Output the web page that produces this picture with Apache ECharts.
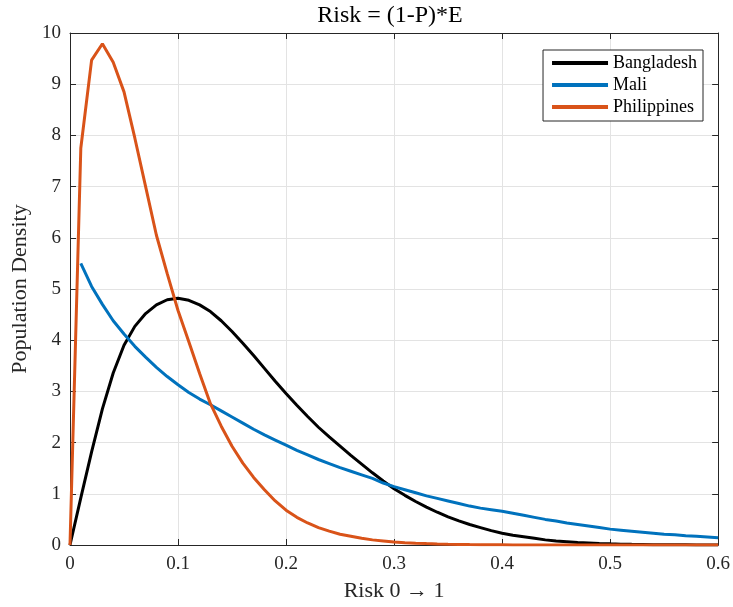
<!DOCTYPE html>
<html>
<head>
<meta charset="utf-8">
<script src="https://cdn.jsdelivr.net/npm/echarts@6/dist/echarts.min.js"></script>
<style>html,body{margin:0;padding:0;background:#fff}#c{width:733px;height:607px}</style>
</head>
<body>
<div id="c"></div>
<script>
var titleText = 'Risk = (1-P)*E';
var xName = 'Risk 0 \u2192 1';
var yName = 'Population Density';
var seriesNames = ['Bangladesh', 'Mali', 'Philippines'];
var xTicks = [0, 0.1, 0.2, 0.3, 0.4, 0.5, 0.6];
var yTicks = [0, 1, 2, 3, 4, 5, 6, 7, 8, 9, 10];

var riskX = [0.00,0.01,0.02,0.03,0.04,0.05,0.06,0.07,0.08,0.09,
             0.10,0.11,0.12,0.13,0.14,0.15,0.16,0.17,0.18,0.19,
             0.20,0.21,0.22,0.23,0.24,0.25,0.26,0.27,0.28,0.29,
             0.30,0.31,0.32,0.33,0.34,0.35,0.36,0.37,0.38,0.39,
             0.40,0.41,0.42,0.43,0.44,0.45,0.46,0.47,0.48,0.49,
             0.50,0.51,0.52,0.53,0.54,0.55,0.56,0.57,0.58,0.59,0.60];

var bangladesh = [0,0.92,1.82,2.66,3.36,3.9,4.27,4.52,4.69,4.79,
                  4.82,4.78,4.69,4.56,4.38,4.17,3.94,3.7,3.45,3.2,
                  2.96,2.73,2.51,2.3,2.11,1.93,1.75,1.58,1.41,1.25,
                  1.1,0.97,0.85,0.74,0.64,0.55,0.47,0.4,0.34,0.28,
                  0.23,0.19,0.16,0.13,0.1,0.08,0.065,0.05,0.04,0.03,
                  0.022,0.017,0.013,0.01,0.007,0.005,0.004,0.003,0.002,0.001,0.001];

var mali = [null,5.5,5.05,4.7,4.38,4.12,3.88,3.67,3.47,3.29,
            3.13,2.98,2.85,2.74,2.62,2.5,2.38,2.26,2.15,2.05,
            1.95,1.85,1.76,1.67,1.59,1.51,1.44,1.37,1.3,1.21,
            1.14,1.08,1.02,0.96,0.91,0.86,0.81,0.76,0.72,0.69,
            0.66,0.62,0.58,0.54,0.5,0.47,0.43,0.4,0.37,0.34,
            0.31,0.29,0.27,0.25,0.23,0.21,0.2,0.18,0.17,0.155,0.14];

var philippines = [0,7.75,9.47,9.79,9.43,8.85,7.95,7.0,6.05,5.3,
                   4.58,3.97,3.35,2.76,2.32,1.93,1.6,1.32,1.08,0.86,
                   0.68,0.54,0.43,0.34,0.27,0.21,0.17,0.13,0.1,0.08,
                   0.06,0.045,0.035,0.027,0.02,0.015,0.011,0.008,0.006,0.004,
                   0.003,0.002,0.002,0.001,0.001,0.001,0,0,0,0,
                   0,0,0,0,0,0,0,0,0,0,0];

var colors = ['#000000', '#0072BD', '#D95319'];

function pairs(vals) {
  var out = [];
  for (var i = 0; i < riskX.length; i++) {
    if (vals[i] !== null) out.push([riskX[i], vals[i]]);
  }
  return out;
}

var font = 'Liberation Serif';
var axisCol = '#262626';
var chart = echarts.init(document.getElementById('c'), null, {renderer: 'canvas'});

function xAxisDef(pos, showLabel) {
  return {
    type: 'value', position: pos,
    min: xTicks[0], max: xTicks[xTicks.length - 1], interval: 0.1,
    axisLine: {show: true, onZero: false, lineStyle: {color: axisCol, width: 1}},
    axisTick: {show: true, inside: true, length: 6, lineStyle: {color: axisCol}},
    axisLabel: {show: showLabel, color: '#262626', fontFamily: font, fontSize: 19, margin: 10,
                formatter: function (v) { return String(Math.round(v * 10) / 10); }},
    splitLine: {show: showLabel, lineStyle: {color: '#e3e3e3', width: 1}},
    name: showLabel ? xName : '',
    nameLocation: 'middle', nameGap: 35,
    nameTextStyle: {color: '#262626', fontFamily: font, fontSize: 22}
  };
}
function yAxisDef(pos, showLabel) {
  return {
    type: 'value', position: pos,
    min: yTicks[0], max: yTicks[yTicks.length - 1], interval: 1,
    axisLine: {show: true, onZero: false, lineStyle: {color: axisCol, width: 1}},
    axisTick: {show: true, inside: true, length: 6, lineStyle: {color: axisCol}},
    axisLabel: {show: showLabel, color: '#262626', fontFamily: font, fontSize: 19, margin: 9},
    splitLine: {show: showLabel, lineStyle: {color: '#e3e3e3', width: 1}},
    name: showLabel ? yName : '',
    nameLocation: 'middle', nameGap: 36,
    nameTextStyle: {color: '#262626', fontFamily: font, fontSize: 22}
  };
}

var series = [bangladesh, mali, philippines].map(function (vals, i) {
  return {
    name: seriesNames[i], type: 'line', data: pairs(vals),
    xAxisIndex: 0, yAxisIndex: 0,
    showSymbol: false, symbol: 'none', smooth: false,
    lineStyle: {color: colors[i], width: 3},
    itemStyle: {color: colors[i]},
    z: 3 + i
  };
});

chart.setOption({
  animation: false,
  backgroundColor: '#ffffff',
  title: {
    text: titleText, left: 385, top: -1, textAlign: 'center',
    textStyle: {color: '#000', fontFamily: font, fontSize: 24, fontWeight: 'normal'}
  },
  grid: {left: 70, right: 13, top: 33, bottom: 59, containLabel: false},
  legend: {
    data: seriesNames, orient: 'vertical', right: 30, top: 50,
    itemWidth: 56, itemHeight: 4, itemGap: 4, icon: 'rect',
    backgroundColor: '#fff', borderColor: '#262626', borderWidth: 1,
    padding: [4, 6, 5, 9],
    textStyle: {color: '#000', fontFamily: font, fontSize: 18}
  },
  xAxis: [xAxisDef('bottom', true), xAxisDef('top', false)],
  yAxis: [yAxisDef('left', true), yAxisDef('right', false)],
  series: series
});
</script>
</body>
</html>
